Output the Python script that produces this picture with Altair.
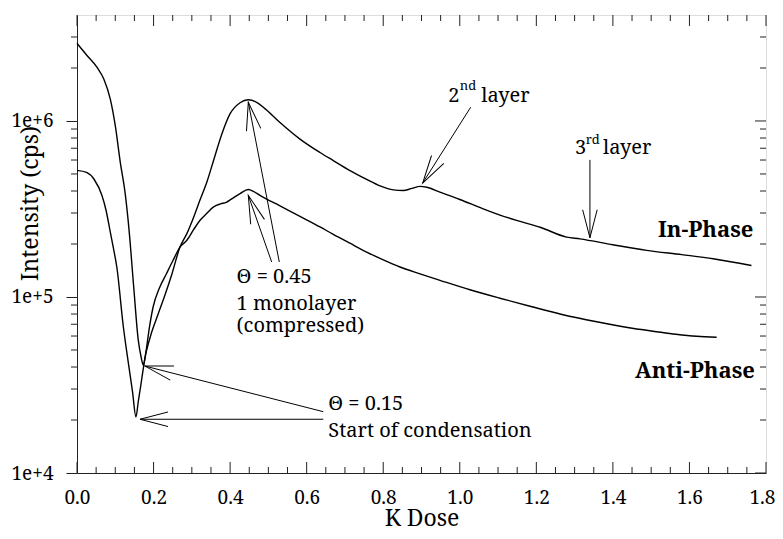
import math
import altair as alt
import pandas as pd

# ---------------- data ----------------
inphase_x = [0.0, 0.025, 0.052, 0.07, 0.087, 0.1, 0.113, 0.126, 0.136, 0.148, 0.16, 0.168, 0.173,
             0.18, 0.195, 0.212, 0.23, 0.247, 0.269, 0.287, 0.305, 0.321, 0.34, 0.356, 0.378, 0.4,
             0.426, 0.4475, 0.4694, 0.491, 0.5303, 0.5825, 0.6348, 0.6695, 0.7131, 0.7568, 0.7915,
             0.8263, 0.8524, 0.875, 0.896, 0.914, 0.948, 1.0, 1.061, 1.105, 1.16, 1.21, 1.279, 1.314,
             1.4, 1.488, 1.58, 1.662, 1.762]
inphase_y = [2.76e6, 2.37e6, 2.02e6, 1.73e6, 1.33e6, 9.4e5, 5.84e5, 3.85e5, 2.4e5, 1.15e5, 5.7e4, 4.5e4, 4.1e4,
             4.8e4, 6.3e4, 8.0e4, 1.03e5, 1.33e5, 1.92e5, 2.29e5, 2.85e5, 3.54e5, 4.55e5, 5.89e5, 8.38e5, 1.1e6,
             1.27e6, 1.32e6, 1.277e6, 1.175e6, 9.8e5, 7.89e5, 6.62e5, 5.96e5, 5.23e5, 4.66e5, 4.28e5,
             4.06e5, 4.03e5, 4.14e5, 4.25e5, 4.2e5, 3.94e5, 3.58e5, 3.17e5, 2.92e5, 2.68e5, 2.49e5, 2.19e5, 2.14e5,
             1.98e5, 1.84e5, 1.74e5, 1.65e5, 1.51e5]

anti_x = [0.0, 0.025, 0.045, 0.065, 0.076, 0.086, 0.095, 0.104, 0.121, 0.135, 0.145, 0.154, 0.16, 0.166,
          0.173, 0.18, 0.19, 0.199, 0.215, 0.234, 0.25, 0.269, 0.287, 0.305, 0.321, 0.34, 0.356, 0.375,
          0.39, 0.404, 0.426, 0.4475, 0.462, 0.478, 0.5303, 0.5825, 0.6348, 0.6695, 0.7131, 0.7568,
          0.8002, 0.8438, 0.896, 0.9483, 1.0266, 1.105, 1.1834, 1.2696, 1.3576, 1.4342, 1.5144, 1.5648,
          1.6189, 1.6711]
anti_y = [5.24e5, 5.1e5, 4.65e5, 3.78e5, 3.1e5, 2.4e5, 1.9e5, 1.48e5, 6.8e4, 4.1e4, 2.9e4, 2.08e4, 2.54e4, 3.08e4,
          3.9e4, 4.85e4, 6.9e4, 8.8e4, 1.12e5, 1.36e5, 1.6e5, 1.92e5, 2.1e5, 2.42e5, 2.72e5, 3.0e5, 3.24e5, 3.38e5,
          3.45e5, 3.61e5, 3.87e5, 4.08e5, 3.97e5, 3.78e5, 3.29e5, 2.87e5, 2.5e5, 2.27e5, 2.02e5, 1.8e5,
          1.625e5, 1.48e5, 1.354e5, 1.244e5, 1.099e5, 9.84e4, 8.86e4, 7.93e4, 7.23e4, 6.73e4, 6.35e4, 6.14e4,
          5.98e4, 5.91e4]

x_major = [0.0, 0.2, 0.4, 0.6, 0.8, 1.0, 1.2, 1.4, 1.6, 1.8]
x_minor = [0.05, 0.1, 0.15, 0.25, 0.3, 0.35, 0.45, 0.5, 0.55, 0.65, 0.7, 0.75, 0.85, 0.9, 0.95,
           1.05, 1.1, 1.15, 1.25, 1.3, 1.35, 1.45, 1.5, 1.55, 1.65, 1.7, 1.75]
y_major = [1e4, 1e5, 1e6]
y_labels = ["1e+4", "1e+5", "1e+6"]
y_minor = [2e4, 3e4, 4e4, 5e4, 6e4, 7e4, 8e4, 9e4, 2e5, 3e5, 4e5, 5e5, 6e5, 7e5, 8e5, 9e5, 2e6, 3e6]

# annotation arrows (tip -> tail), data units
arrow_tip_x = [0.4475, 0.4475, 0.1776, 0.1646, 0.9031, 1.340]
arrow_tip_y = [1.277e6, 3.78e5, 4.05e4, 2.02e4, 4.44e5, 2.17e5]
arrow_tail_x = [0.5285, 0.5086, 0.6434, 0.6434, 1.0285, 1.340]
arrow_tail_y = [1.58e5, 1.58e5, 2.23e4, 2.02e4, 1.197e6, 6.01e5]

# annotation texts
note_text = ["\u0398 = 0.45", "1 monolayer", "(compressed)", "\u0398 = 0.15", "Start of condensation",
             "2", "layer", "3", "layer"]
note_x = [0.417, 0.417, 0.417, 0.6565, 0.6565, 0.970, 1.056, 1.301, 1.374]
note_y = [1.197e5, 8.4e4, 6.3e4, 2.28e4, 1.6e4, 1.277e6, 1.277e6, 6.5e5, 6.5e5]
sup_text = ["nd", "rd"]
sup_x = [1.0, 1.329]
sup_y = [1.49e6, 7.41e5]
label_text = ["In-Phase", "Anti-Phase"]
label_x = [1.767, 1.771]
label_y = [2.18e5, 3.46e4]

# ---------------- geometry ----------------
W, H = 689, 458
X_DOM = [0.0, 1.8]
Y_DOM = [1e4, 4e6]
FONT = "Noto Serif, DejaVu Serif"
INK = "#000000"
FRAME = "#222222"


def px(x):
    return (x - X_DOM[0]) / (X_DOM[1] - X_DOM[0]) * W


def py(y):
    return H - (math.log10(y) - math.log10(Y_DOM[0])) / (math.log10(Y_DOM[1]) - math.log10(Y_DOM[0])) * H


xs = alt.Scale(domain=X_DOM, nice=False, zero=False)
ys = alt.Scale(type="log", domain=Y_DOM, nice=False)

curves = pd.DataFrame({
    "x": inphase_x + anti_x,
    "y": inphase_y + anti_y,
    "series": ["In-Phase"] * len(inphase_x) + ["Anti-Phase"] * len(anti_x),
})

label_expr = " : ".join(
    f"datum.value == {v} ? '{t}'" for v, t in zip(y_major[:-1], y_labels[:-1])
) + f" : '{y_labels[-1]}'"

x_axis = alt.Axis(values=x_major, format=".1f", ticks=False, tickSize=0, labelPadding=30,
                  labelBaseline="alphabetic", labelFontSize=19, labelFont=FONT, labelColor=INK,
                  labelFlush=False, labelOverlap=False, grid=False, domainColor=FRAME,
                  labelOffset={"condition": {"test": "datum.value == 1.8", "value": -4}, "value": 0},
                  title="K Dose", titleFont=FONT, titleFontSize=23, titleFontWeight="normal",
                  titleColor=INK, titleBaseline="alphabetic", titleY=52)
y_axis = alt.Axis(values=y_major, labelExpr=label_expr, tickSize=11, tickColor=FRAME, labelPadding=13,
                  labelFontSize=19, labelFont=FONT, labelColor=INK, labelFlush=False,
                  labelOverlap=False, grid=False, domainColor=FRAME,
                  title="Intensity (cps)", titleFont=FONT, titleFontSize=23, titleFontWeight="normal",
                  titleColor=INK, titleAngle=270, titleAlign="center", titleBaseline="alphabetic",
                  titleX=-40, titleY=188)

lines = alt.Chart(curves).mark_line(color=INK, strokeWidth=1.4, interpolate="monotone").encode(
    x=alt.X("x:Q", scale=xs, axis=x_axis),
    y=alt.Y("y:Q", scale=ys, axis=y_axis),
    detail="series:N",
)

# inward / minor ticks
xmaj = pd.DataFrame({"x": x_major})
xmin = pd.DataFrame({"x": x_minor})
ymaj = pd.DataFrame({"y": y_major})
ymin = pd.DataFrame({"y": y_minor})
tick_layers = [
    alt.Chart(xmaj).mark_rule(color=FRAME).encode(x=alt.X("x:Q", scale=xs), y=alt.value(H), y2=alt.value(H - 11)),
    alt.Chart(xmin).mark_rule(color=FRAME).encode(x=alt.X("x:Q", scale=xs), y=alt.value(H), y2=alt.value(H - 6)),
    alt.Chart(xmaj).mark_rule(color=FRAME).encode(x=alt.X("x:Q", scale=xs), y=alt.value(0), y2=alt.value(11)),
    alt.Chart(xmin).mark_rule(color=FRAME).encode(x=alt.X("x:Q", scale=xs), y=alt.value(0), y2=alt.value(6)),
    alt.Chart(ymaj).mark_rule(color=FRAME).encode(y=alt.Y("y:Q", scale=ys), x=alt.value(W), x2=alt.value(W - 11)),
    alt.Chart(ymin).mark_rule(color=FRAME).encode(y=alt.Y("y:Q", scale=ys), x=alt.value(W), x2=alt.value(W - 6)),
    alt.Chart(ymin).mark_rule(color=FRAME).encode(y=alt.Y("y:Q", scale=ys), x=alt.value(-6), x2=alt.value(0)),
]

# arrows
angles = []
for tx, ty, sx, sy in zip(arrow_tip_x, arrow_tip_y, arrow_tail_x, arrow_tail_y):
    dx = px(tx) - px(sx)
    dy = py(ty) - py(sy)
    angles.append(math.degrees(math.atan2(dx, -dy)) % 360)
arrows = pd.DataFrame({"tx": arrow_tip_x, "ty": arrow_tip_y, "sx": arrow_tail_x, "sy": arrow_tail_y,
                       "angle": angles})
shafts = alt.Chart(arrows).mark_rule(color=INK, strokeWidth=1).encode(
    x=alt.X("tx:Q", scale=xs), y=alt.Y("ty:Q", scale=ys), x2="sx:Q", y2="sy:Q")
heads = alt.Chart(arrows).mark_point(shape="M -0.26 1 L 0 0 L 0.26 1", filled=False, stroke=INK,
                                     strokeWidth=1, size=3136, opacity=1).encode(
    x=alt.X("tx:Q", scale=xs), y=alt.Y("ty:Q", scale=ys), angle=alt.Angle("angle:Q", scale=None))

notes = alt.Chart(pd.DataFrame({"x": note_x, "y": note_y, "t": note_text})).mark_text(
    align="left", baseline="alphabetic", font=FONT, fontSize=20, color=INK).encode(
    x=alt.X("x:Q", scale=xs), y=alt.Y("y:Q", scale=ys), text="t:N")
sups = alt.Chart(pd.DataFrame({"x": sup_x, "y": sup_y, "t": sup_text})).mark_text(
    align="left", baseline="alphabetic", font=FONT, fontSize=13, color=INK).encode(
    x=alt.X("x:Q", scale=xs), y=alt.Y("y:Q", scale=ys), text="t:N")
labels = alt.Chart(pd.DataFrame({"x": label_x, "y": label_y, "t": label_text})).mark_text(
    align="right", baseline="alphabetic", font=FONT, fontSize=22, fontWeight="bold", color=INK).encode(
    x=alt.X("x:Q", scale=xs), y=alt.Y("y:Q", scale=ys), text="t:N")

chart = alt.layer(lines, *tick_layers, shafts, heads, notes, sups, labels).properties(
    width=W, height=H,
    autosize=alt.AutoSizeParams(type="none"),
    padding={"left": 69, "top": 7, "right": 9, "bottom": 58},
).configure_view(stroke=FRAME, strokeWidth=1).configure(background="white")

chart.save("out.html", embed_options={"renderer": "svg", "actions": False})
